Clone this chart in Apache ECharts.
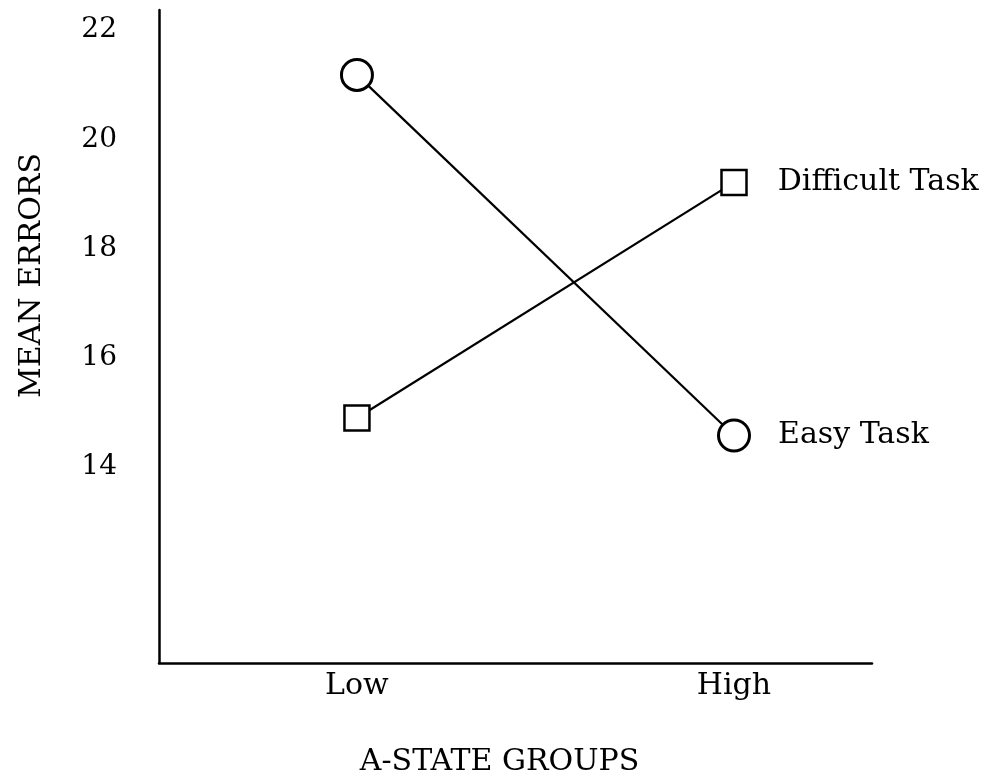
<!DOCTYPE html>
<html>
<head>
<meta charset="utf-8">
<script src="https://cdn.jsdelivr.net/npm/echarts@6/dist/echarts.min.js"></script>
<style>
  html, body { margin: 0; padding: 0; background: #fff; }
  #chart { width: 998px; height: 782px; }
</style>
</head>
<body>
<div id="chart"></div>
<script>
// A-State groups on the x axis, mean errors on the y axis
const groups = ["Low", "High"];
const groupPos = [1, 2];
const easyTask = [21.18, 14.57];
const difficultTask = [14.89, 19.21];
const yTicks = [14, 16, 18, 20, 22];

const font = "DejaVu Serif";

const chart = echarts.init(document.getElementById("chart"));

function pairs(values) {
  return groupPos.map((x, i) => [x, values[i]]);
}

function lastLabel(distance) {
  return {
    show: true,
    position: "right",
    distance: distance,
    fontFamily: font,
    fontSize: 30,
    color: "#000",
    formatter: (p) => (p.dataIndex === groups.length - 1 ? p.seriesName : ""),
  };
}

const option = {
  backgroundColor: "#fff",
  animation: false,
  grid: {
    left: 159,
    right: 126,
    top: 10,
    bottom: 118,
  },
  xAxis: {
    type: "value",
    min: 0.475,
    max: 2.366,
    name: "A-STATE GROUPS",
    nameLocation: "middle",
    nameGap: 84,
    nameTextStyle: {
      fontFamily: font,
      fontSize: 30,
      color: "#000",
      padding: [0, 32, 0, 0],
    },
    axisLine: { show: true, lineStyle: { color: "#000", width: 2.5 } },
    axisTick: { show: false },
    splitLine: { show: false },
    axisLabel: {
      customValues: groupPos,
      formatter: (v) => groups[groupPos.indexOf(v)] || "",
      fontFamily: font,
      fontSize: 30,
      color: "#000",
      margin: 8,
    },
  },
  yAxis: {
    type: "value",
    min: 10.4,
    max: 22.37,
    name: "MEAN ERRORS",
    nameLocation: "middle",
    nameGap: 112,
    nameTextStyle: {
      fontFamily: font,
      fontSize: 30,
      color: "#000",
      padding: [0, 0, 0, 122],
    },
    axisLine: { show: true, lineStyle: { color: "#000", width: 2.5 } },
    axisTick: { show: false },
    splitLine: { show: false },
    axisLabel: {
      customValues: yTicks,
      fontFamily: font,
      fontSize: 28,
      color: "#000",
      margin: 42,
    },
  },
  series: [
    {
      name: "Easy Task",
      type: "line",
      data: pairs(easyTask),
      symbol: "circle",
      symbolSize: 31,
      lineStyle: { color: "#000", width: 2.2 },
      itemStyle: { color: "#fff", borderColor: "#000", borderWidth: 3 },
      label: lastLabel(27),
      z: 3,
    },
    {
      name: "Difficult Task",
      type: "line",
      data: pairs(difficultTask),
      symbol: "rect",
      symbolSize: 25,
      lineStyle: { color: "#000", width: 2.2 },
      itemStyle: { color: "#fff", borderColor: "#000", borderWidth: 2.5 },
      label: lastLabel(30),
      z: 3,
    },
  ],
};

chart.setOption(option);
</script>
</body>
</html>
